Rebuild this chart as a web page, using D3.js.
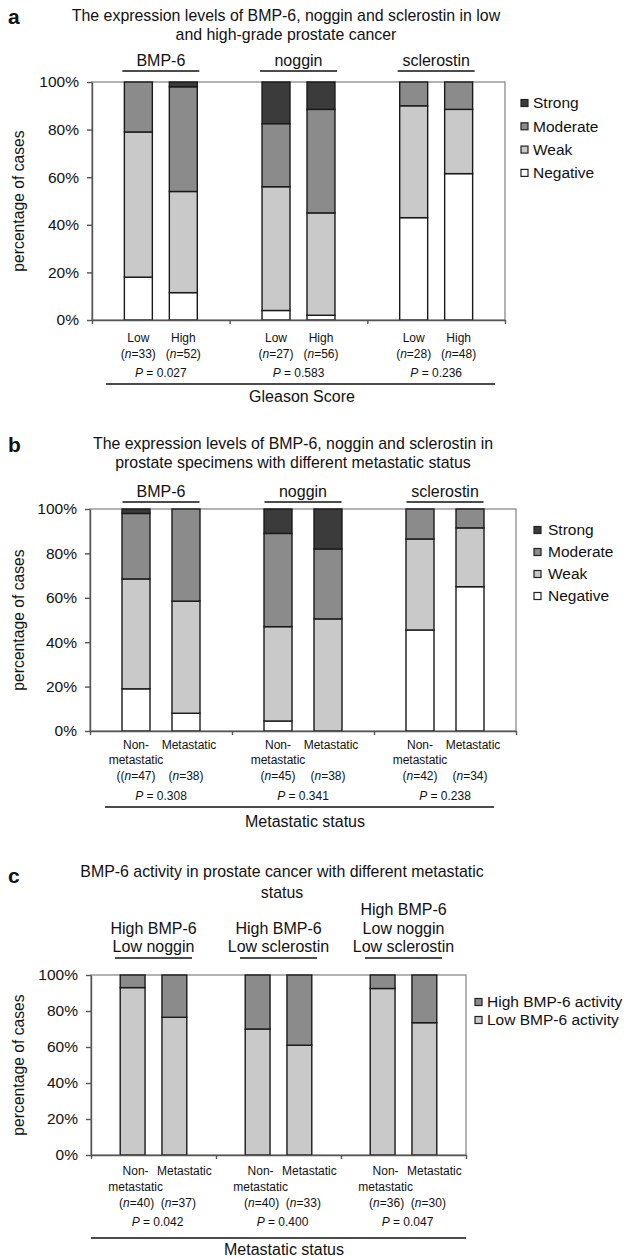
<!DOCTYPE html>
<html>
<head>
<meta charset="utf-8">
<script src="https://cdn.jsdelivr.net/npm/d3@7"></script>
<style>
  body { margin: 0; background: #fff; }
  svg text { font-family: "Liberation Sans", Arial, Helvetica, sans-serif; fill: #111; }
</style>
</head>
<body>
<svg id="chart" width="626" height="1258"></svg>
<script>
// ---------- data ----------
const markers = ["BMP-6", "noggin", "sclerostin"];
const levels = ["Negative", "Weak", "Moderate", "Strong"];

// panel a - Gleason score (bars: BMP-6 Low, High, noggin Low, High, sclerostin Low, High)
const gradeBars = ["Low", "High"];
const gradeN = ["(n=33)", "(n=52)", "(n=27)", "(n=56)", "(n=28)", "(n=48)"];
const gradeP = ["0.027", "0.583", "0.236"];
const gradeNegative = [18, 11.5, 4, 2, 43, 61.5];
const gradeWeak = [61, 42.5, 52, 43, 47, 27];
const gradeModerate = [21, 44, 26.5, 43.5, 10, 11.5];
const gradeStrong = [0, 2, 17.5, 11.5, 0, 0];

// panel b - metastatic status
const metaBars = ["Non-metastatic", "Metastatic"];
const metaN = ["((n=47)", "(n=38)", "(n=45)", "(n=38)", "(n=42)", "(n=34)"];
const metaP = ["0.308", "0.341", "0.238"];
const metaNegative = [19, 8, 4.5, 0, 45.5, 65];
const metaWeak = [49.5, 50.5, 42.5, 50.5, 41, 26.5];
const metaModerate = [29.5, 41.5, 42, 31.5, 13.5, 8.5];
const metaStrong = [2, 0, 11, 18, 0, 0];

// panel c - BMP-6 activity
const activityGroups = [["High BMP-6", "Low noggin"], ["High BMP-6", "Low sclerostin"], ["High BMP-6", "Low noggin", "Low sclerostin"]];
const activityKeys = ["Low BMP-6 activity", "High BMP-6 activity"];
const activityN = ["(n=40)", "(n=37)", "(n=40)", "(n=33)", "(n=36)", "(n=30)"];
const activityP = ["0.042", "0.400", "0.047"];
const activityLow = [93, 76.5, 70, 61, 92.5, 73.5];
const activityHigh = [7, 23.5, 30, 39, 7.5, 26.5];

const yTicks = [0, 20, 40, 60, 80, 100];

// ---------- styles ----------
const fills = {
  "Negative": "#ffffff", "Weak": "#c9c9c9", "Moderate": "#8b8b8b", "Strong": "#3b3b3b",
  "Low BMP-6 activity": "#c9c9c9", "High BMP-6 activity": "#8b8b8b"
};

const svg = d3.select("#chart");

// text with italic "n" in "(n=33)"
function nLabel(sel, s) {
  const k = s.indexOf("n=");
  sel.append("tspan").text(s.slice(0, k));
  sel.append("tspan").attr("font-style", "italic").text("n");
  sel.append("tspan").text(s.slice(k + 1));
}

function drawPanel(cfg) {
  const g = svg.append("g");
  const groupIds = d3.range(cfg.groups.length);
  const y = d3.scaleLinear().domain([0, 100]).range([cfg.bottom, cfg.top]);
  const x0 = d3.scaleBand().domain(groupIds).range([cfg.left, cfg.right]);
  const x1 = d3.scaleBand().domain(cfg.subs).range([0, x0.bandwidth()])
    .paddingInner(cfg.pi).paddingOuter(cfg.po);
  const xi = d3.scaleLinear().domain([0, cfg.groups.length]).range([cfg.left, cfg.right]);
  const mid = gi => x0(gi) + x0.bandwidth() / 2;
  const barMid = (gi, s) => x0(gi) + x1(s) + x1.bandwidth() / 2;

  // panel letter + title
  g.append("text").attr("x", 8).attr("y", cfg.letterY).attr("font-size", 21)
    .attr("font-weight", "bold").text(cfg.letter);
  g.selectAll("text.title").data(cfg.title).join("text").attr("class", "title")
    .attr("x", cfg.titleX).attr("y", (d, i) => cfg.titleY[i])
    .attr("text-anchor", "middle").attr("font-size", 15.9).text(d => d);

  // plot frame
  g.append("rect").attr("x", cfg.left).attr("y", cfg.top)
    .attr("width", cfg.right - cfg.left).attr("height", cfg.bottom - cfg.top)
    .attr("fill", "none").attr("stroke", "#8a8a8a").attr("stroke-width", 1.3);

  // stacked bars
  const rows = [];
  groupIds.forEach(gi => cfg.subs.forEach((s, si) => {
    const i = gi * cfg.subs.length + si;
    const r = { gi, sub: s };
    cfg.keys.forEach((k, ki) => r[k] = cfg.values[ki][i]);
    rows.push(r);
  }));
  const series = d3.stack().keys(cfg.keys)(rows);
  g.selectAll("g.layer").data(series).join("g").attr("class", "layer")
    .attr("fill", d => fills[d.key])
    .selectAll("rect").data(d => d.filter(p => p[1] - p[0] > 0)).join("rect")
    .attr("x", d => x0(d.data.gi) + x1(d.data.sub))
    .attr("width", x1.bandwidth())
    .attr("y", d => y(d[1]))
    .attr("height", d => y(d[0]) - y(d[1]))
    .attr("stroke", "#1a1a1a").attr("stroke-width", 1.4);

  // axes
  g.append("g").attr("transform", `translate(${cfg.left},0)`)
    .call(d3.axisLeft(y).tickValues(yTicks).tickFormat(d => d + "%").tickSize(5).tickSizeOuter(0).tickPadding(8))
    .call(a => {
      a.selectAll("path, line").attr("stroke", "#555").attr("stroke-width", 1.4);
      a.selectAll("text").attr("font-size", 15.5).attr("fill", "#111");
    });
  g.append("g").attr("transform", `translate(0,${cfg.bottom})`)
    .call(d3.axisBottom(xi).tickValues(d3.range(cfg.groups.length + 1)).tickFormat("").tickSize(4).tickSizeOuter(0))
    .call(a => a.selectAll("path, line").attr("stroke", "#555").attr("stroke-width", 1.4));

  // y label
  g.append("text")
    .attr("transform", `translate(${cfg.ylabX},${(cfg.top + cfg.bottom) / 2}) rotate(-90)`)
    .attr("text-anchor", "middle").attr("dy", "0.35em").attr("font-size", 15.7)
    .text("percentage of cases");

  // group headers with underline
  groupIds.forEach(gi => {
    const lines = cfg.groups[gi];
    lines.forEach((t, li) => {
      g.append("text").attr("x", mid(gi))
        .attr("y", cfg.headBase - (lines.length - 1 - li) * cfg.headStep)
        .attr("text-anchor", "middle").attr("font-size", 16).text(t);
    });
    g.append("line").attr("x1", mid(gi) - cfg.headW / 2).attr("x2", mid(gi) + cfg.headW / 2)
      .attr("y1", cfg.headLine).attr("y2", cfg.headLine)
      .attr("stroke", "#111").attr("stroke-width", 1.6);
  });

  // category labels, n, P
  groupIds.forEach(gi => {
    cfg.subs.forEach((s, si) => {
      cfg.subLines[si].forEach((t, li) => {
        g.append("text").attr("x", barMid(gi, s) + cfg.catDx[si]).attr("y", cfg.catY[li])
          .attr("text-anchor", "middle").attr("font-size", 12).text(t);
      });
      g.append("text").attr("x", barMid(gi, s) + cfg.nDx).attr("y", cfg.nY)
        .attr("text-anchor", "middle").attr("font-size", 12)
        .call(nLabel, cfg.n[gi * cfg.subs.length + si]);
    });
    const p = g.append("text").attr("x", mid(gi) + cfg.nDx).attr("y", cfg.pY)
      .attr("text-anchor", "middle").attr("font-size", 12);
    p.append("tspan").attr("font-style", "italic").text("P");
    p.append("tspan").text(" = " + cfg.p[gi]);
  });

  g.append("line").attr("x1", cfg.lineX[0]).attr("x2", cfg.lineX[1])
    .attr("y1", cfg.lineY).attr("y2", cfg.lineY).attr("stroke", "#111").attr("stroke-width", 1.4);
  g.append("text").attr("x", cfg.xTitleX).attr("y", cfg.xTitleY)
    .attr("text-anchor", "middle").attr("font-size", 16).text(cfg.xTitle);

  // legend
  const lg = g.selectAll("g.legend").data(cfg.legend).join("g").attr("class", "legend")
    .attr("transform", (d, i) => `translate(${cfg.legX},${cfg.legY + i * cfg.legDy})`);
  lg.append("rect").attr("x", 0).attr("y", -3.5).attr("width", 7).attr("height", 7)
    .attr("fill", d => fills[d]).attr("stroke", "#222").attr("stroke-width", 1.2);
  lg.append("text").attr("x", cfg.legText).attr("dy", "0.35em")
    .attr("font-size", 15.5).text(d => d);
}

drawPanel({
  letter: "a", letterY: 24,
  title: ["The expression levels of BMP-6, noggin and sclerostin in low", "and high-grade prostate cancer"],
  titleX: 286, titleY: [21, 40],
  groups: markers.map(m => [m]), subs: gradeBars,
  subLines: [["Low"], ["High"]], catDx: [0, 0], nDx: 0,
  keys: levels, values: [gradeNegative, gradeWeak, gradeModerate, gradeStrong],
  n: gradeN, p: gradeP,
  left: 92, right: 505, top: 82, bottom: 320, pi: 0.378, po: 0.72,
  ylabX: 18,
  headBase: 66, headStep: 18.5, headLine: 71, headW: 77,
  catY: [342], nY: 358, pY: 377, lineY: 384, lineX: [106, 495],
  xTitle: "Gleason Score", xTitleX: 302, xTitleY: 402,
  legend: ["Strong", "Moderate", "Weak", "Negative"],
  legX: 521, legY: 103, legDy: 23.3, legText: 12
});

drawPanel({
  letter: "b", letterY: 452,
  title: ["The expression levels of BMP-6, noggin and sclerostin in", "prostate specimens with different metastatic status"],
  titleX: 293, titleY: [449, 468],
  groups: markers.map(m => [m]), subs: metaBars,
  subLines: [["Non-", "metastatic"], ["Metastatic"]], catDx: [0, 3], nDx: 0,
  keys: levels, values: [metaNegative, metaWeak, metaModerate, metaStrong],
  n: metaN, p: metaP,
  left: 90, right: 516, top: 509, bottom: 731, pi: 0.44, po: 0.64,
  ylabX: 18,
  headBase: 497, headStep: 18.5, headLine: 502, headW: 77,
  catY: [749, 764], nY: 780, pY: 800, lineY: 807, lineX: [105, 494],
  xTitle: "Metastatic status", xTitleX: 305, xTitleY: 827,
  legend: ["Strong", "Moderate", "Weak", "Negative"],
  legX: 534, legY: 530, legDy: 22, legText: 14
});

drawPanel({
  letter: "c", letterY: 883,
  title: ["BMP-6 activity in prostate cancer with different metastatic", "status"],
  titleX: 282, titleY: [877, 898],
  groups: activityGroups, subs: metaBars,
  subLines: [["Non-", "metastatic"], ["Metastatic"]], catDx: [3, 10], nDx: 4,
  keys: activityKeys, values: [activityLow, activityHigh],
  n: activityN, p: activityP,
  left: 91, right: 466, top: 975, bottom: 1155, pi: 0.405, po: 0.70,
  ylabX: 18,
  headBase: 952, headStep: 18.5, headLine: 958, headW: 77,
  catY: [1175, 1191], nY: 1207, pY: 1226, lineY: 1238, lineX: [91, 466],
  xTitle: "Metastatic status", xTitleX: 284, xTitleY: 1255,
  legend: ["High BMP-6 activity", "Low BMP-6 activity"],
  legX: 475, legY: 1002, legDy: 18, legText: 12
});
</script>
</body>
</html>
